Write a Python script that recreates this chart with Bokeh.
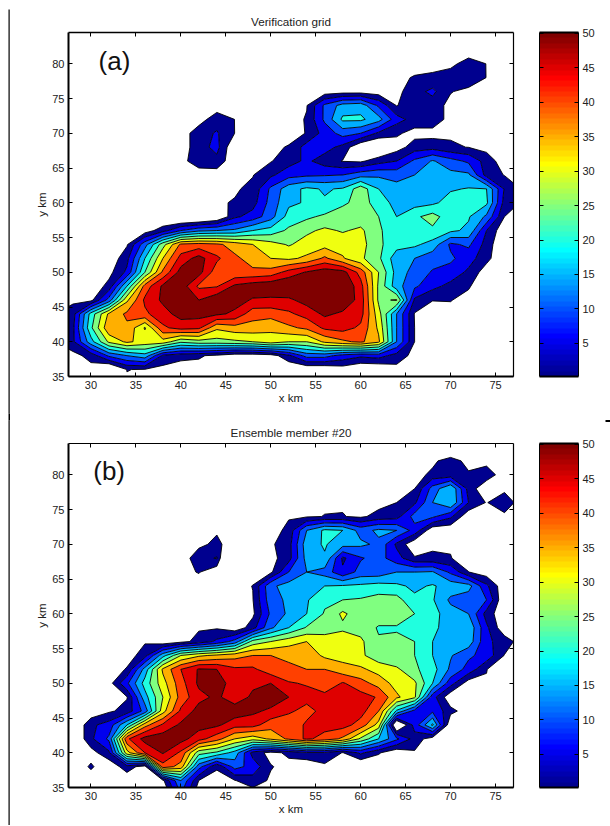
from bokeh.plotting import figure
from bokeh.layouts import row, column
from bokeh.models import Range1d, FixedTicker, LinearAxis, Label, LinearColorMapper, Title
from bokeh.embed import file_html
from bokeh.resources import INLINE
import numpy as np

x_km = list(range(26, 80, 2))
y_desc = list(range(84, 32, -2))
x_ticks = [30, 35, 40, 45, 50, 55, 60, 65, 70, 75]
y_ticks = [35, 40, 45, 50, 55, 60, 65, 70, 75, 80]
bar_ticks = [5, 10, 15, 20, 25, 30, 35, 40, 45, 50]
contour_levels = [0.5, 5, 10, 15, 20, 25, 30, 35, 40, 45, 50, 1000]
titles = ["Verification grid", "Ensemble member #20"]
panel_tags = ["(a)", "(b)"]

verification_rows = [
 [0]*27,
 [0]*23+[-3,-1,0,0],
 [0]*20+[-2,-2,-1,3,0.4,-1,0],
 [0]*19+[-1,1,2,3.5,4,0.4,-1,0],
 [0]*14+[0,-2,-1.5,-1.5,-2,-1,3.5,6,0.8,-1,-1,0,0],
 [0]*9+[-2,0,0,0,0]+[0.3,11,17,18,9,0.3,3,3,-1,0,0,0,0],
 [0]*8+[-1.5,3,0.45,0,0,-1]+[0.8,11,21,21,17,7,3,3,-1,0,0,0,0],
 [0]*7+[-2,3,5.5,0.45,0,0,-2]+[0.8,7,12,10,4,1.2,-1,-1,0,0,0,0,0],
 [0]*7+[-2,3,6.5,-4,0,-1,1]+[7,7,3.5,-4,-6,-1.5,2.5,3,1,0.4,-1,0,0],
 [0]*7+[-1,3,3.5,-3,0,0.2,3]+[6,2.5,0.3,-0.3,3,5,11,15.5,12,9,3,-2,0],
 [0]*7+[0,-2,-2,0,0.3,4,8]+[9,9.5,10,13,14,13,15,17,16.5,16,3,0.3,-1],
 [0]*10+[0,1.5,11,18]+[21,19.5,20.5,28,20,17,17,18,19.5,20.3,20,4.5,0],
 [0]*10+[0.8,3,12,19]+[20.5,20.5,24,27,23,18,18,19,22,23,21,3,0],
 [0]*6+[-5,-8,-8,-5]+[4,7,13,22]+[24,26,28,27,25,20,24,27,22,20.5,14,0.5,-2],
 [0]*5+[-2,3,10,14,15,16,20,22,26]+[29,31,29.5,31,26,21,21,24,21,19,5,-3,0],
 [0,0,0,-2,0,13,28,41,42,41,38,35,32,29.5]+[32,33,33,32,26,22,21,18,9,11,3,-4,0],
 [0,0,0,-3,3.5,20,35,47,52,46,41,38,35,34]+[36,41,35.5,31,26,17,15,12,11,7,2,-4,0],
 [0,0,0,-1,6,25,41,52,52,42,41,41,42,47]+[50.5,53,52,43,30,18,13,9.5,8,4,-2,0,0],
 [0,0,-3,2,20,42,51,53,44,44.5,51,53,54,55]+[55,55,55,47,29,17,11,6.5,3.5,1,-3,0,0],
 [0,-0.5,-1,12,34,46,51,54,50,54,52,49.5,49,49]+[52,55,54,48,29,30.5,4,0.6,0.7,-1,0,0,0],
 [0.5,3,22,36,41,44,48,52,52,51,49,42,42,44]+[47,51,49,47,32,15,0.2,-1,-1,0,0,0,0],
 [0.5,4,24,39,39,29.5,44,47,46,36,38,38,36,39]+[41,46,47,44,34,15,0.5,-2,0,0,0,0,0],
 [0.5,4,18,31,36,33,33,26,28,28,29,30,33,30]+[30,36,39,41,36,15,0.5,-3,0,0,0,0,0],
 [0,-1,2,11,15,18,4,2,1,-0.5,-3,-3,-2,4]+[12,12,8,6,7,3,-1,0,0,0,0,0,0],
 [0,0,-1,-7,0.6,0.2,-1,-2,-1,0,0,0,0,-4]+[-4,-4,-2,-4,-4,-1,0,0,0,0,0,0,0],
 [0]*27,
]

member_rows = [
 [0]*22+[-10,0,0,0,0],
 [0]*21+[-1,4,-2,-1,0,0],
 [0]*20+[-2,2,2,1.5,3,-2,0],
 [0]*19+[-2,0.5,12,20,3,-3,-1,0],
 [0]*18+[-1,0.5,4,15,20,5,0.2,4.5,-3],
 [0]*13+[0,0,0.6,0.7,-0.3,2,3,12,11,6,-3,-1,-1,0],
 [0]*12+[-2,2,15,21,20,13,16,15,8,-3,-3,0,0,0,0],
 [0]*8+[-0.5,1.5,-2,0]+[-0.2,3,18,20.5,17,16,14,4,-3,0,0,0,0,0,0],
 [0]*7+[-2,3,5.4,-20,0,-1,3]+[17,19.5,4,9.5,12,7,1,1,0.7,-2,0,0,0],
 [0]*7+[-1,0.8,-3,0,-1,-0.5,10]+[15,13,6,12,12,15,15,15.5,9,0.6,-2,0,0],
 [0]*7+[0,-2,0,-1,0.6,14,17]+[17,20,20.5,21,22,21,19,20.5,18,17,6,-3,0],
 [0]*10+[-1,0.3,13,16]+[19.5,24,25,25.5,27,27,21,20.5,14,12,10,-4,0],
 [0]*11+[-0.5,11,16]+[20,25.5,31,27,28,28,25,22,17,15,3,-3,0],
 [0]*10+[-3,3,14,20]+[25.5,27,29,28,24.5,24.5,24,21,18,19,6,-3,0],
 [0]*6+[-3,-1,2,6,12,27,30,33]+[35,33,33,31,25.5,26,25,20,19.5,18,6,3,-2],
 [0]*4+[-2,3,18,30,34,36,38,40,40,39]+[38,34,33,31,27,25.5,25,20,15.5,11,8,0.3,-2],
 [0,0,0,-3,1,17,36,45,50.5,50,46,46,42,41]+[40,40,37,36,33,31,26,22,14,8,0.7,-4,0],
 [0,0,0,-1.5,9,22,33,43,51,53,47,49,50,45.5]+[44.5,41,45.5,42,38,33,31,20,7,-2,0,0,0],
 [0,0,0,-4,0.2,18,30,42,48.5,51,47,51,53,50]+[47,47,48,47,44.5,36,31,7,-3,0,0,0,0],
 [0,0,-3,-0.2,2,12,33,46,52,50,53,51,49,46]+[43,47,48,47,40,19,8,9,2,-2,0,0,0],
 [0,-5,4,7,20,38,46,51,52,51,47,47,42,41]+[46,47,47,43,33,-8,7,21,-4,0,0,0,0],
 [0,-5,4,11,44,52,53,52,47,42,35,32,36,41]+[46,43,39,29,20,11,3,-2,-1,0,0,0,0],
 [0,-1,-1.5,4,33,45,50.5,44,27,24,18,3,-1,1.5]+[4,4,0.3,6,1,-3,0,0,0,0,0,0,0],
 [0,-3,1.2,-3,3,-2,43,38,12,1,12,8,0.8,-1]+[-3,-0.5,-3,-5,-3,-1,0,0,0,0,0,0,0],
 [0,0,-2,-1,-3,-5,-0.5,15,0.4,-1,0.3,3,-0.2,-1]+[0]*13,
 [0]*6+[-5,10,-3,0,0,-2,0,0]+[0]*13,
]

for table in (verification_rows, member_rows):
    assert len(table) == len(y_desc)
    for r in table:
        assert len(r) == len(x_km), r

# MATLAB jet(64)
ramp = [i/16 for i in range(1, 17)] + [1.0]*15 + [i/16 for i in range(16, 0, -1)]
g = [0.0]*64; r_ = [0.0]*64; b = [0.0]*64
for k, u in enumerate(ramp):
    if 8+k < 64: g[8+k] = u
    if 24+k < 64: r_[24+k] = u
    if k-8 >= 0: b[k-8] = u
jet64 = ["#%02x%02x%02x" % (round(r_[i]*255), round(g[i]*255), round(b[i]*255)) for i in range(64)]
CMIN, CMAX = 0.2, 50.1
def level_colour(v):
    return jet64[min(63, int((v-CMIN)/(CMAX-CMIN)*64))]
fills = [level_colour(v) for v in contour_levels[:-1]]

FONT = "Liberation Sans"
INK = "#222222"

def plain_axis(ticks, width):
    return LinearAxis(ticker=FixedTicker(ticks=ticks), major_tick_in=4, major_tick_out=0,
                      minor_tick_in=0, minor_tick_out=0, major_label_text_font_size="1px",
                      major_label_overrides={t: "" for t in ticks},
                      major_label_standoff=0, axis_line_width=width, axis_line_color="black")

def panel(rows, title, tag, tag_x, tag_y, top_w, bottom, top):
    p = figure(frame_width=445, frame_height=344, x_range=Range1d(27.5, 77), y_range=Range1d(35, 84.5),
               toolbar_location=None, output_backend="svg", min_border_left=58, min_border_right=13,
               min_border_top=top, min_border_bottom=bottom, background_fill_color="white", outline_line_color=None,
               x_axis_label="x km", y_axis_label="y km")
    p.grid.visible = False
    p.title = Title(text=title, align="center", text_font=FONT, text_font_size="11.7px",
                    text_font_style="normal", text_color=INK, standoff=10)
    z = np.array(rows[::-1], dtype=float)
    p.contour(x_km, y_desc[::-1], z, contour_levels, fill_color=fills, line_color="black", line_width=0.9)
    for ax, tk in ((p.xaxis[0], x_ticks), (p.yaxis[0], y_ticks)):
        ax.ticker = FixedTicker(ticks=tk)
        ax.major_tick_in = 4; ax.major_tick_out = 0
        ax.minor_tick_in = 0; ax.minor_tick_out = 0
        ax.major_label_text_font = FONT; ax.major_label_text_font_size = "11px"
        ax.major_label_text_color = INK
        ax.axis_label_text_font = FONT; ax.axis_label_text_font_size = "11.5px"
        ax.axis_label_text_font_style = "normal"; ax.axis_label_text_color = INK
        ax.axis_line_width = 2; ax.axis_line_color = "black"
        ax.major_tick_line_color = "black"; ax.major_tick_line_width = 1
        ax.major_label_standoff = 4
    p.xaxis[0].axis_label_standoff = 0
    p.yaxis[0].axis_label_standoff = 1
    p.add_layout(plain_axis(x_ticks, top_w), "above")
    p.add_layout(plain_axis(y_ticks, 1.2), "right")
    p.add_layout(Label(x=tag_x, y=tag_y, text=tag, text_font=FONT, text_font_size="26px", text_color="#111111"))
    return p

def bar(bottom, top, right):
    c = figure(frame_width=39, frame_height=344, x_range=Range1d(0, 1), y_range=Range1d(CMIN, CMAX),
               toolbar_location=None, output_backend="svg", y_axis_location="right",
               min_border_left=13, min_border_right=right, min_border_top=top, min_border_bottom=bottom,
               outline_line_color=None)
    c.grid.visible = False
    c.xaxis.visible = False
    grad = np.arange(64).reshape(64, 1)
    c.image(image=[grad], x=0, y=CMIN, dw=1, dh=CMAX-CMIN,
            color_mapper=LinearColorMapper(palette=jet64, low=0, high=63))
    ax = c.yaxis[0]
    ax.ticker = FixedTicker(ticks=bar_ticks)
    ax.major_tick_in = 4; ax.major_tick_out = 0; ax.minor_tick_in = 0; ax.minor_tick_out = 0
    ax.major_label_text_font = FONT; ax.major_label_text_font_size = "11px"; ax.major_label_text_color = INK
    ax.major_label_standoff = 4; ax.axis_line_color = "black"; ax.axis_line_width = 1
    c.add_layout(plain_axis(bar_ticks, 1), "left")
    for loc in ("above", "below"):
        c.add_layout(plain_axis([], 2), loc)
    return c

def strip(width):
    s = figure(width=width, height=825, x_range=Range1d(0, width), y_range=Range1d(825, 0),
               toolbar_location=None, output_backend="svg", x_axis_type=None, y_axis_type=None,
               min_border=0, outline_line_color=None)
    s.grid.visible = False
    return s

pa = panel(verification_rows, titles[0], panel_tags[0], 30.85, 78.3, 1.6, 42, 32)
pb = panel(member_rows, titles[1], panel_tags[1], 30.25, 78.4, 1.2, 39, 24)
ba, bb = bar(42, 32, 26), bar(39, 24, 26)

# scan marks along the page edge
left_strip = strip(10)
left_strip.quad(left=[8, 8, 8], right=[9.2, 10, 9.2], top=[9, 413, 420], bottom=[413, 420, 825],
                fill_color="black", line_color=None)
right_strip = strip(6)
right_strip.quad(left=[1], right=[6], top=[419.5], bottom=[421.5], fill_color="black", line_color=None)

layout = row(left_strip, column(row(pa, ba), row(pb, bb)), right_strip)
open("out.html", "w").write(file_html(layout, INLINE))
